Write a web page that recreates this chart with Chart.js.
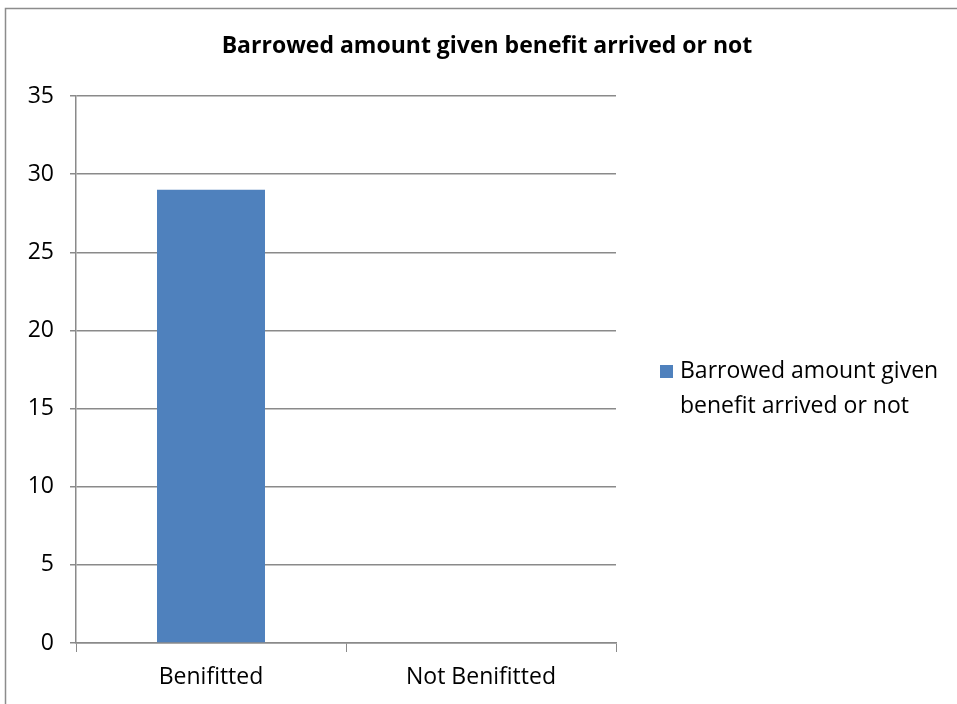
<!DOCTYPE html>
<html>
<head>
<meta charset="utf-8">
<script src="https://cdn.jsdelivr.net/npm/chart.js@4"></script>
<style>
  html, body { margin: 0; padding: 0; background: #fff; }
  #wrap { position: relative; width: 957px; height: 704px; }
</style>
</head>
<body>
<div id="wrap"><canvas id="chart" width="957" height="704"></canvas></div>
<script>
// Chart content
const chartTitle = 'Barrowed amount given benefit arrived or not';
const categories = ['Benifitted', 'Not Benifitted'];
const seriesLabel = 'Barrowed amount given benefit arrived or not';
const seriesValues = [29, 0];
const yTicks = [0, 5, 10, 15, 20, 25, 30, 35];

const FONT = '"Open Sans", Lato, "Liberation Sans", sans-serif';
const GRID = '#8a8a8a';
const BAR = '#4f81bd';

// Outer frame: left and top edges visible, the rest runs off the canvas
const framePlugin = {
  id: 'frame',
  beforeDraw(chart) {
    const ctx = chart.ctx;
    ctx.save();
    ctx.fillStyle = '#fff';
    ctx.fillRect(0, 0, chart.width, chart.height);
    ctx.strokeStyle = '#8c8c8c';
    ctx.lineWidth = 1.5;
    ctx.strokeRect(5.5, 8.5, 980, 760);
    ctx.restore();
  }
};

// Title centred over the whole frame (chart area plus legend)
const frameTitle = {
  id: 'frameTitle',
  afterDraw(chart, args, opts) {
    const ctx = chart.ctx;
    ctx.save();
    ctx.font = 'bold 23px ' + FONT;
    ctx.fillStyle = '#000';
    ctx.textAlign = 'center';
    ctx.textBaseline = 'middle';
    ctx.fillText(opts.text, 487, 46);
    ctx.restore();
  }
};

// Legend on the right with word-wrapped text
const sideLegend = {
  id: 'sideLegend',
  afterDraw(chart) {
    const ctx = chart.ctx;
    const ds = chart.data.datasets[0];
    ctx.save();
    ctx.font = '23px ' + FONT;
    const maxW = 275;
    const words = ds.label.split(' ');
    const lines = [];
    let cur = '';
    words.forEach(w => {
      const t = cur ? cur + ' ' + w : w;
      if (ctx.measureText(t).width > maxW && cur) { lines.push(cur); cur = w; }
      else cur = t;
    });
    if (cur) lines.push(cur);
    const x0 = 660, y0 = 371, lh = 35;
    ctx.fillStyle = ds.backgroundColor;
    ctx.fillRect(x0, y0 - 6, 13, 13);
    ctx.fillStyle = '#000';
    ctx.textBaseline = 'middle';
    ctx.textAlign = 'left';
    lines.forEach((ln, i) => ctx.fillText(ln, x0 + 20, y0 + i * lh));
    ctx.restore();
  }
};

new Chart(document.getElementById('chart'), {
  type: 'bar',
  data: {
    labels: categories,
    datasets: [{
      label: seriesLabel,
      data: seriesValues,
      backgroundColor: BAR,
      borderWidth: 0,
      categoryPercentage: 1,
      barPercentage: 0.4
    }]
  },
  options: {
    responsive: false,
    animation: false,
    devicePixelRatio: 1,
    layout: { padding: { top: 96, right: 341, bottom: 0, left: 0 } },
    plugins: {
      legend: { display: false },
      tooltip: { enabled: false },
      title: { display: false },
      frameTitle: { text: chartTitle }
    },
    scales: {
      x: {
        offset: true,
        afterFit(scale) { scale.height = 61; },
        grid: {
          offset: true,
          drawOnChartArea: false,
          drawTicks: true,
          tickLength: 9,
          color: GRID,
          lineWidth: 1
        },
        border: { display: true, color: GRID, width: 1.5 },
        ticks: {
          color: '#000',
          padding: 12,
          font: { family: FONT, size: 23 }
        }
      },
      y: {
        min: 0,
        max: 35,
        afterFit(scale) { scale.width = 76; },
        afterBuildTicks(scale) { scale.ticks = yTicks.map(v => ({ value: v })); },
        grid: {
          drawOnChartArea: true,
          drawTicks: true,
          tickLength: 6,
          color: GRID,
          lineWidth: 1.5
        },
        border: { display: true, color: GRID, width: 1.5 },
        ticks: {
          color: '#000',
          padding: 16,
          font: { family: FONT, size: 23 }
        }
      }
    }
  },
  plugins: [framePlugin, frameTitle, sideLegend]
});
</script>
</body>
</html>
